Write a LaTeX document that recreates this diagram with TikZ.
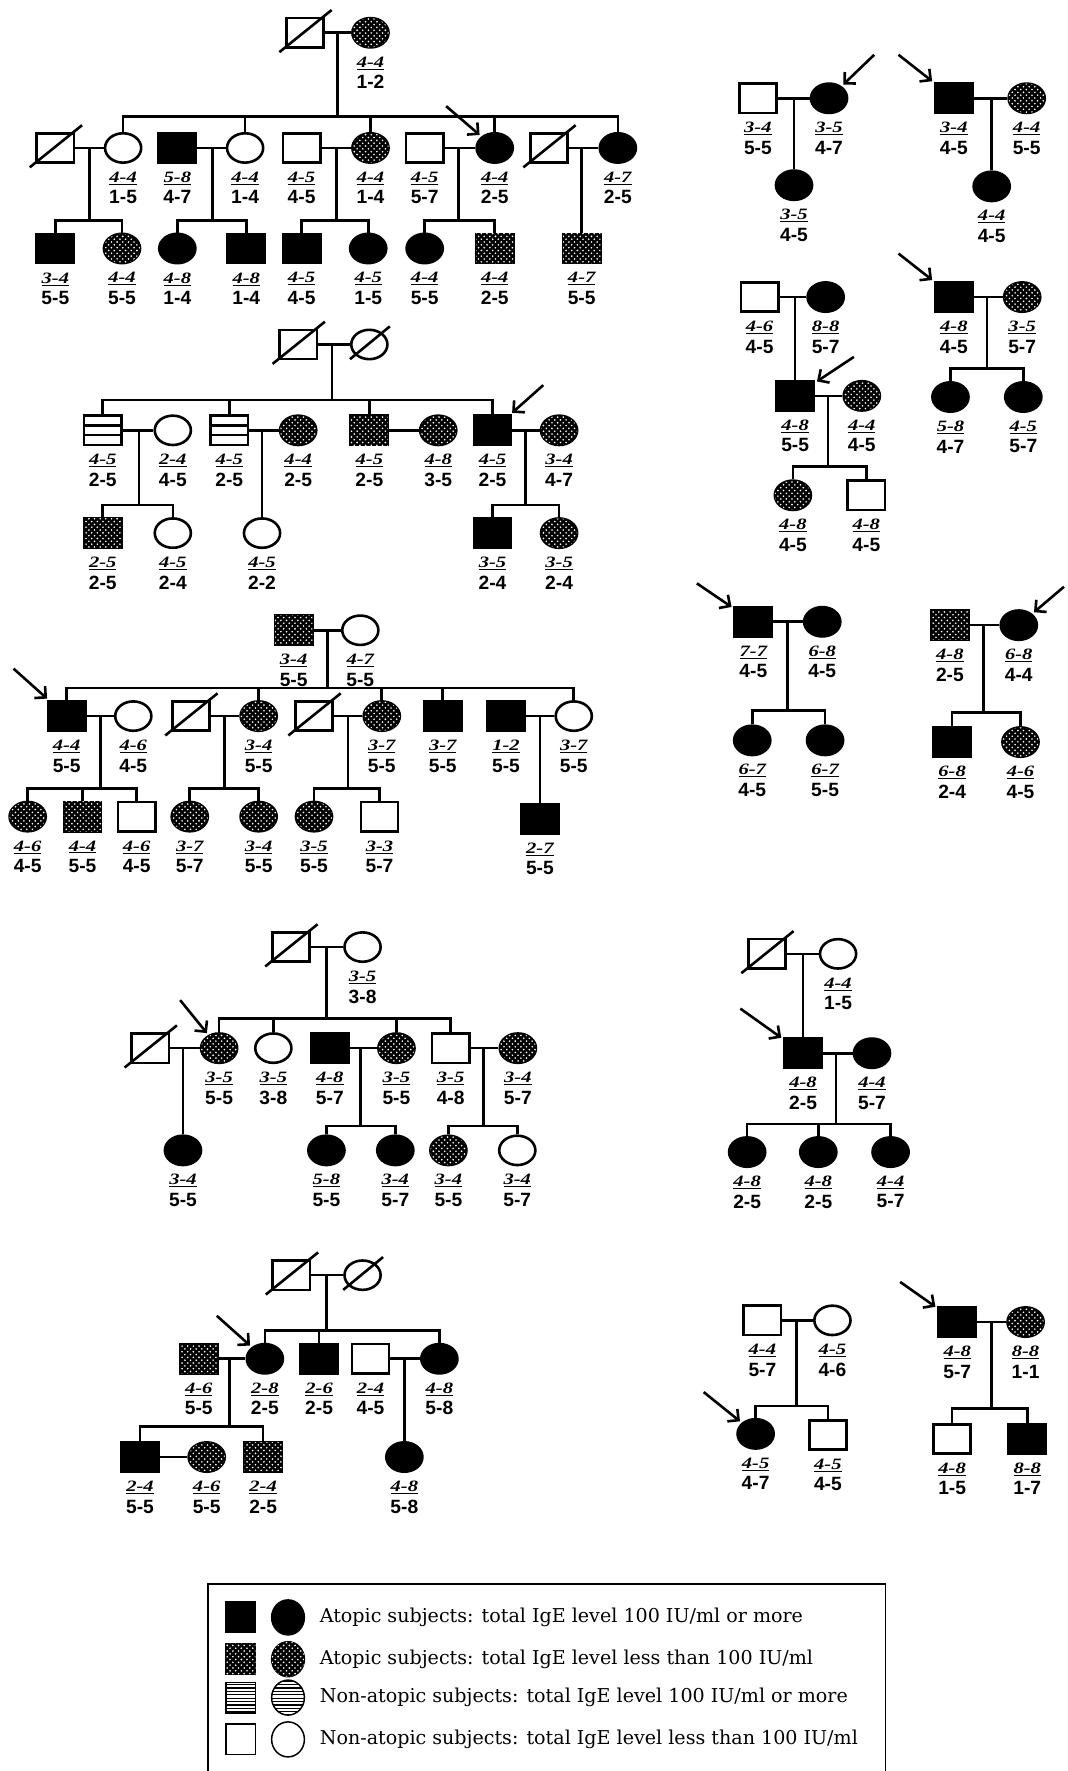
\documentclass[tikz,border=0pt]{standalone}
\usepackage{fontspec}
\usepackage{graphicx}
\setmainfont{DejaVu Serif}
\setsansfont{Liberation Sans}
\newfontfamily\labfont{Liberation Serif}
\usetikzlibrary{shapes.geometric,patterns,arrows.meta}

\pgfdeclarepatternformonly{igedots}{\pgfqpoint{-1pt}{-1pt}}{\pgfqpoint{6pt}{6pt}}{\pgfqpoint{5pt}{5pt}}{%
  \pgfpathcircle{\pgfqpoint{1.2pt}{1.2pt}}{0.8pt}%
  \pgfpathcircle{\pgfqpoint{3.7pt}{3.7pt}}{0.8pt}%
  \pgfusepath{fill}}
\pgfdeclarepatternformonly{igelines}{\pgfqpoint{-1pt}{-1pt}}{\pgfqpoint{4pt}{4pt}}{\pgfqpoint{3pt}{3pt}}{%
  \pgfsetlinewidth{1.1pt}%
  \pgfpathmoveto{\pgfqpoint{-1pt}{1.5pt}}\pgfpathlineto{\pgfqpoint{4pt}{1.5pt}}%
  \pgfusepath{stroke}}

% genotype label: underlined top line, plain second line
\newcommand{\hlab}[2]{\underline{\scalebox{1.3}[1]{\labfont\fontsize{14}{14}\selectfont\bfseries\itshape #1}}\\{\sffamily\bfseries #2}}

\tikzset{
  male/.style={draw, rectangle, minimum width=33pt, minimum height=26pt, inner sep=0pt},
  fem/.style={draw, ellipse, minimum width=32pt, minimum height=26pt, inner sep=0pt},
  aff/.style={fill=black},
  low/.style={fill=black, postaction={pattern=igedots, pattern color=white}},
  nona/.style={path picture={
      \draw ([yshift=4.3pt]path picture bounding box.west) -- ([yshift=4.3pt]path picture bounding box.east);
      \draw ([yshift=-4.3pt]path picture bounding box.west) -- ([yshift=-4.3pt]path picture bounding box.east);}},
  dead/.style={append after command={([shift={(-5pt,-3pt)}]\tikzlastnode.south west)
      edge[-] ([shift={(6pt,6pt)}]\tikzlastnode.north east)}},
  lab/.style={align=center, inner sep=0pt, font=\fontsize{17}{19}\selectfont},
  hla/.style 2 args={label={[lab]below:{\hlab{#1}{#2}}}},
  pb/.style={-{Straight Barb[angle=90:10pt]}, shorten >=2pt},
  lsq/.style={draw, rectangle, minimum width=26pt, minimum height=27pt, inner sep=0pt, line width=1.3pt},
  lci/.style={draw, ellipse, minimum width=29pt, minimum height=31pt, inner sep=0pt, line width=1.3pt},
  key/.style={anchor=west, inner sep=0pt, font=\fontsize{16.9}{20}\selectfont}
}

\begin{document}
\begin{tikzpicture}[x=1pt, y=-1pt, line width=2.3pt, label distance=6pt]
\useasboundingbox (0,0) rectangle (945,1568);
%
% family 1
\node[male, dead] (aI1) at (270,29) {};
\node[fem, low, hla={4-4}{1-2}] (aI2) at (328,29) {};
\node[male, dead] (aII1) at (49,131) {};
\node[fem, hla={4-4}{1-5}] (aII2) at (109,131) {};
\node[male, aff, hla={5-8}{4-7}] (aII3) at (157,131) {};
\node[fem, hla={4-4}{1-4}] (aII4) at (217,131) {};
\node[male, hla={4-5}{4-5}] (aII5) at (267,131) {};
\node[fem, low, hla={4-4}{1-4}] (aII6) at (328,131) {};
\node[male, hla={4-5}{5-7}] (aII7) at (376,131) {};
\node[fem, aff, hla={4-4}{2-5}] (aII8) at (438,131) {};
\node[male, dead] (aII9) at (486,131) {};
\node[fem, aff, hla={4-7}{2-5}] (aII10) at (547,131) {};
\node[male, aff, hla={3-4}{5-5}] (aIII1) at (49,220) {};
\node[fem, low, hla={4-4}{5-5}] (aIII2) at (108,220) {};
\node[fem, aff, hla={4-8}{1-4}] (aIII3) at (157,220) {};
\node[male, aff, hla={4-8}{1-4}] (aIII4) at (218,220) {};
\node[male, aff, hla={4-5}{4-5}] (aIII5) at (267,220) {};
\node[fem, aff, hla={4-5}{1-5}] (aIII6) at (326,220) {};
\node[fem, aff, hla={4-4}{5-5}] (aIII7) at (376,220) {};
\node[male, low, hla={4-4}{2-5}] (aIII8) at (438,220) {};
\node[male, low, hla={4-7}{5-5}] (aIII9) at (515,220) {};
\coordinate (aM1) at (299,29);   \coordinate (aS1) at (299,103);
\coordinate (aM2) at (79,131);   \coordinate (aS2) at (79,195);
\coordinate (aM3) at (188,131);  \coordinate (aS3) at (188,195);
\coordinate (aM4) at (298,131);  \coordinate (aS4) at (298,195);
\coordinate (aM5) at (406,131);  \coordinate (aS5) at (406,195);
\coordinate (aM6) at (515,131);
\coordinate (aP) at (395,94);
\draw (aI1) -- (aI2);
\draw (aM1) -- (aS1);
\draw (aII2.north) |- (aS1) -| (aII10.north);
\foreach \k in {aII4,aII6,aII8} \draw (\k.north) -- (\k.north |- aS1);
\draw (aII1) -- (aII2);  \draw (aII3) -- (aII4);  \draw (aII5) -- (aII6);
\draw (aII7) -- (aII8);  \draw (aII9) -- (aII10);
\draw (aM2) -- (aS2);  \draw (aIII1.north) |- (aS2) -| (aIII2.north);
\draw (aM3) -- (aS3);  \draw (aIII3.north) |- (aS3) -| (aIII4.north);
\draw (aM4) -- (aS4);  \draw (aIII5.north) |- (aS4) -| (aIII6.north);
\draw (aM5) -- (aS5);  \draw (aIII7.north) |- (aS5) -| (aIII8.north);
\draw (aM6) -- (aIII9);
\draw[pb] (aP) -- (aII8);
%
% family 2
\node[male, dead] (bI1) at (264,305) {};
\node[fem, dead] (bI2) at (327,305) {};
\node[male, nona, hla={4-5}{2-5}] (bII1) at (91,381) {};
\node[fem, hla={2-4}{4-5}] (bII2) at (153,381) {};
\node[male, nona, hla={4-5}{2-5}] (bII3) at (203,381) {};
\node[fem, low, hla={4-4}{2-5}] (bII4) at (264,381) {};
\node[male, low, hla={4-5}{2-5}] (bII5) at (327,381) {};
\node[fem, low, hla={4-8}{3-5}] (bII6) at (388,381) {};
\node[male, aff, hla={4-5}{2-5}] (bII7) at (436,381) {};
\node[fem, low, hla={3-4}{4-7}] (bII8) at (495,381) {};
\node[male, low, hla={2-5}{2-5}] (bIII1) at (91,472) {};
\node[fem, hla={4-5}{2-4}] (bIII2) at (153,472) {};
\node[fem, hla={4-5}{2-2}] (bIII3) at (232,472) {};
\node[male, aff, hla={3-5}{2-4}] (bIII4) at (436,472) {};
\node[fem, low, hla={3-5}{2-4}] (bIII5) at (495,472) {};
\coordinate (bM1) at (294,305);  \coordinate (bS1) at (294,354);
\coordinate (bM2) at (123,381);  \coordinate (bS2) at (123,447);
\coordinate (bM3) at (232,381);
\coordinate (bM4) at (465,381);  \coordinate (bS4) at (465,447);
\coordinate (bP) at (481,341);
\draw (bI1) -- (bI2);
\draw (bM1) -- (bS1);
\draw (bII1.north) |- (bS1) -| (bII7.north);
\foreach \k in {bII3,bII5} \draw (\k.north) -- (\k.north |- bS1);
\draw (bII1) -- (bII2);  \draw (bII3) -- (bII4);  \draw (bII5) -- (bII6);  \draw (bII7) -- (bII8);
\draw (bM2) -- (bS2);  \draw (bIII1.north) |- (bS2) -| (bIII2.north);
\draw (bM3) -- (bIII3);
\draw (bM4) -- (bS4);  \draw (bIII4.north) |- (bS4) -| (bIII5.north);
\draw[pb] (bP) -- (bII7);
%
% family 3
\node[male, low, hla={3-4}{5-5}] (cI1) at (260,558) {};
\node[fem, hla={4-7}{5-5}] (cI2) at (319,558) {};
\node[male, aff, hla={4-4}{5-5}] (cII1) at (59,634) {};
\node[fem, hla={4-6}{4-5}] (cII2) at (118,634) {};
\node[male, dead] (cII3) at (169,634) {};
\node[fem, low, hla={3-4}{5-5}] (cII4) at (229,634) {};
\node[male, dead] (cII5) at (278,634) {};
\node[fem, low, hla={3-7}{5-5}] (cII6) at (338,634) {};
\node[male, aff, hla={3-7}{5-5}] (cII7) at (392,634) {};
\node[male, aff, hla={1-2}{5-5}] (cII8) at (448,634) {};
\node[fem, hla={3-7}{5-5}] (cII9) at (508,634) {};
\node[fem, low, hla={4-6}{4-5}] (cIII1) at (24.5,723) {};
\node[male, low, hla={4-4}{5-5}] (cIII2) at (73,723) {};
\node[male, hla={4-6}{4-5}] (cIII3) at (121,723) {};
\node[fem, low, hla={3-7}{5-7}] (cIII4) at (168,723) {};
\node[fem, low, hla={3-4}{5-5}] (cIII5) at (229,723) {};
\node[fem, low, hla={3-5}{5-5}] (cIII6) at (278,723) {};
\node[male, hla={3-3}{5-7}] (cIII7) at (336,723) {};
\node[male, aff, hla={2-7}{5-5}] (cIII8) at (478,725) {};
\coordinate (cM1) at (290,558);  \coordinate (cS1) at (290,609);
\coordinate (cM2) at (89,634);   \coordinate (cS2) at (89,698);
\coordinate (cM3) at (199,634);  \coordinate (cS3) at (199,698);
\coordinate (cM4) at (308,634);  \coordinate (cS4) at (308,698);
\coordinate (cM5) at (478,634);
\coordinate (cP) at (12,592);
\draw (cI1) -- (cI2);
\draw (cM1) -- (cS1);
\draw (cII1.north) |- (cS1) -| (cII9.north);
\foreach \k in {cII4,cII6,cII7} \draw (\k.north) -- (\k.north |- cS1);
\draw (cII1) -- (cII2);  \draw (cII3) -- (cII4);  \draw (cII5) -- (cII6);  \draw (cII8) -- (cII9);
\draw (cM2) -- (cS2);  \draw (cIII1.north) |- (cS2) -| (cIII3.north);
\draw (cIII2.north) -- (cIII2.north |- cS2);
\draw (cM3) -- (cS3);  \draw (cIII4.north) |- (cS3) -| (cIII5.north);
\draw (cM4) -- (cS4);  \draw (cIII6.north) |- (cS4) -| (cIII7.north);
\draw (cM5) -- (cIII8);
\draw[pb] (cP) -- (cII1);
%
% family 4
\node[male, dead] (dI1) at (257.5,838.5) {};
\node[fem, hla={3-5}{3-8}] (dI2) at (321,838.5) {};
\node[male, dead] (dII1) at (133,928) {};
\node[fem, low, hla={3-5}{5-5}] (dII2) at (194,928) {};
\node[fem, hla={3-5}{3-8}] (dII3) at (242,928) {};
\node[male, aff, hla={4-8}{5-7}] (dII4) at (292,928) {};
\node[fem, low, hla={3-5}{5-5}] (dII5) at (351,928) {};
\node[male, hla={3-5}{4-8}] (dII6) at (399,928) {};
\node[fem, low, hla={3-4}{5-7}] (dII7) at (458.5,928) {};
\node[fem, aff, hla={3-4}{5-5}] (dIII1) at (162,1018.5) {};
\node[fem, aff, hla={5-8}{5-5}] (dIII2) at (289,1018.5) {};
\node[fem, aff, hla={3-4}{5-7}] (dIII3) at (350,1018.5) {};
\node[fem, low, hla={3-4}{5-5}] (dIII4) at (397,1018.5) {};
\node[fem, hla={3-4}{5-7}] (dIII5) at (458,1018.5) {};
\coordinate (dM1) at (289,838.5);  \coordinate (dS1) at (289,902);
\coordinate (dM2) at (162,928);
\coordinate (dM3) at (319,928);    \coordinate (dS3) at (319,997);
\coordinate (dM4) at (428,928);    \coordinate (dS4) at (428,997);
\coordinate (dP) at (159.5,885.5);
\draw (dI1) -- (dI2);
\draw (dM1) -- (dS1);
\draw (dII2.north) |- (dS1) -| (dII6.north);
\foreach \k in {dII3,dII5} \draw (\k.north) -- (\k.north |- dS1);
\draw (dII1) -- (dII2);  \draw (dII4) -- (dII5);  \draw (dII6) -- (dII7);
\draw (dM2) -- (dIII1);
\draw (dM3) -- (dS3);  \draw (dIII2.north) |- (dS3) -| (dIII3.north);
\draw (dM4) -- (dS4);  \draw (dIII4.north) |- (dS4) -| (dIII5.north);
\draw[pb] (dP) -- (dII2);
%
% family 5
\node[male, dead] (eI1) at (258,1129) {};
\node[fem, dead] (eI2) at (321,1129) {};
\node[male, low, hla={4-6}{5-5}] (eII1) at (176,1203) {};
\node[fem, aff, hla={2-8}{2-5}] (eII2) at (234.5,1203) {};
\node[male, aff, hla={2-6}{2-5}] (eII3) at (282.5,1203) {};
\node[male, hla={2-4}{4-5}] (eII4) at (328,1203) {};
\node[fem, aff, hla={4-8}{5-8}] (eII5) at (389,1203) {};
\node[male, aff, hla={2-4}{5-5}] (eIII1) at (124,1290) {};
\node[fem, low, hla={4-6}{5-5}] (eIII2) at (183,1290) {};
\node[male, low, hla={2-4}{2-5}] (eIII3) at (233,1290) {};
\node[fem, aff, hla={4-8}{5-8}] (eIII4) at (358,1290) {};
\coordinate (eM1) at (289,1129);  \coordinate (eS1) at (289,1178);
\coordinate (eM2) at (203,1203);  \coordinate (eS2) at (203,1263);
\coordinate (eM3) at (358,1203);
\coordinate (eP) at (192,1165);
\draw (eI1) -- (eI2);
\draw (eM1) -- (eS1);
\draw (eII2.north) |- (eS1) -| (eII5.north);
\draw (eII3.north) -- (eII3.north |- eS1);
\draw (eII1) -- (eII2);  \draw (eII4) -- (eII5);
\draw (eM2) -- (eS2);  \draw (eIII1.north) |- (eS2) -| (eIII3.north);
\draw (eIII1) -- (eIII2);
\draw (eM3) -- (eIII4);
\draw[pb] (eP) -- (eII2);
%
% right column
\node[male, hla={3-4}{5-5}] (fI1) at (671,87) {};
\node[fem, aff, hla={3-5}{4-7}] (fI2) at (734,87) {};
\node[fem, aff, hla={3-5}{4-5}] (fII1) at (703,164) {};
\coordinate (fM1) at (703,87);  \coordinate (fP) at (774,48.5);
\draw (fI1) -- (fI2);  \draw (fM1) -- (fII1);
\draw[pb] (fP) -- (fI2);
%
\node[male, aff, hla={3-4}{4-5}] (gI1) at (844.5,87) {};
\node[fem, low, hla={4-4}{5-5}] (gI2) at (909,87) {};
\node[fem, aff, hla={4-4}{4-5}] (gII1) at (878,165) {};
\coordinate (gM1) at (878,87);  \coordinate (gP) at (795.5,48.5);
\draw (gI1) -- (gI2);  \draw (gM1) -- (gII1);
\draw[pb] (gP) -- (gI1);
%
\node[male, hla={4-6}{4-5}] (hI1) at (672.5,263) {};
\node[fem, aff, hla={8-8}{5-7}] (hI2) at (731,263) {};
\node[male, aff, hla={4-8}{5-5}] (hII1) at (704,350.5) {};
\node[fem, low, hla={4-4}{4-5}] (hII2) at (763,350.5) {};
\node[fem, low, hla={4-8}{4-5}] (hIII1) at (702,438.5) {};
\node[male, hla={4-8}{4-5}] (hIII2) at (767,438.5) {};
\coordinate (hM1) at (704,263);  \coordinate (hM2) at (733,350.5);  \coordinate (hS2) at (733,413);
\coordinate (hP) at (756,316);
\draw (hI1) -- (hI2);  \draw (hM1) -- (hII1);
\draw (hII1) -- (hII2);
\draw (hM2) -- (hS2);  \draw (hIII1.north) |- (hS2) -| (hIII2.north);
\draw[pb] (hP) -- (hII1);
%
\node[male, aff, hla={4-8}{4-5}] (iI1) at (844.5,263) {};
\node[fem, low, hla={3-5}{5-7}] (iI2) at (905,263) {};
\node[fem, aff, hla={5-8}{4-7}] (iII1) at (841.5,351.5) {};
\node[fem, aff, hla={4-5}{5-7}] (iII2) at (906,351.5) {};
\coordinate (iM1) at (874,263);  \coordinate (iS1) at (874,326);
\coordinate (iP) at (795.5,224.5);
\draw (iI1) -- (iI2);
\draw (iM1) -- (iS1);  \draw (iII1.north) |- (iS1) -| (iII2.north);
\draw[pb] (iP) -- (iI1);
%
\node[male, aff, hla={7-7}{4-5}] (jI1) at (667,550.5) {};
\node[fem, aff, hla={6-8}{4-5}] (jI2) at (728,550.5) {};
\node[fem, aff, hla={6-7}{4-5}] (jII1) at (666,655.5) {};
\node[fem, aff, hla={6-7}{5-5}] (jII2) at (730.5,655.5) {};
\coordinate (jM1) at (697,550.5);  \coordinate (jS1) at (697,629);
\coordinate (jP) at (617,516.5);
\draw (jI1) -- (jI2);
\draw (jM1) -- (jS1);  \draw (jII1.north) |- (jS1) -| (jII2.north);
\draw[pb] (jP) -- (jI1);
%
\node[male, low, hla={4-8}{2-5}] (kI1) at (841,553.5) {};
\node[fem, aff, hla={6-8}{4-4}] (kI2) at (902,553.5) {};
\node[male, aff, hla={6-8}{2-4}] (kII1) at (843,657) {};
\node[fem, low, hla={4-6}{4-5}] (kII2) at (903.5,657) {};
\coordinate (kM1) at (871,553.5);  \coordinate (kS1) at (871,631);
\coordinate (kP) at (942,519.5);
\draw (kI1) -- (kI2);
\draw (kM1) -- (kS1);  \draw (kII1.north) |- (kS1) -| (kII2.north);
\draw[pb] (kP) -- (kI2);
%
\node[male, dead] (lI1) at (679,844.5) {};
\node[fem, hla={4-4}{1-5}] (lI2) at (742,844.5) {};
\node[male, aff, hla={4-8}{2-5}] (lII1) at (711,932.5) {};
\node[fem, aff, hla={4-4}{5-7}] (lII2) at (772,932.5) {};
\node[fem, aff, hla={4-8}{2-5}] (lIII1) at (661.5,1020) {};
\node[fem, aff, hla={4-8}{2-5}] (lIII2) at (724.5,1020) {};
\node[fem, aff, hla={4-4}{5-7}] (lIII3) at (788.5,1020) {};
\coordinate (lM1) at (711,844.5);  \coordinate (lM2) at (740,932.5);  \coordinate (lS2) at (740,995);
\coordinate (lP) at (655.5,893);
\draw (lI1) -- (lI2);  \draw (lM1) -- (lII1);
\draw (lII1) -- (lII2);
\draw (lM2) -- (lS2);  \draw (lIII1.north) |- (lS2) -| (lIII3.north);
\draw (lIII2.north) -- (lIII2.north |- lS2);
\draw[pb] (lP) -- (lII1);
%
\node[male, hla={4-4}{5-7}] (nI1) at (675,1169) {};
\node[fem, hla={4-5}{4-6}] (nI2) at (737,1169) {};
\node[fem, aff, hla={4-5}{4-7}] (nII1) at (669,1269.5) {};
\node[male, hla={4-5}{4-5}] (nII2) at (733,1270.5) {};
\coordinate (nM1) at (705,1169);  \coordinate (nS1) at (705,1245);
\coordinate (nP) at (623,1232.5);
\draw (nI1) -- (nI2);
\draw (nM1) -- (nS1);  \draw (nII1.north) |- (nS1) -| (nII2.north);
\draw[pb] (nP) -- (nII1);
%
\node[male, aff, hla={4-8}{5-7}] (oI1) at (847.5,1170.5) {};
\node[fem, low, hla={8-8}{1-1}] (oI2) at (908,1170.5) {};
\node[male, hla={4-8}{1-5}] (oII1) at (843,1274) {};
\node[male, aff, hla={8-8}{1-7}] (oII2) at (909.5,1274) {};
\coordinate (oM1) at (878,1170.5);  \coordinate (oS1) at (878,1247);
\coordinate (oP) at (797,1135);
\draw (oI1) -- (oI2);
\draw (oM1) -- (oS1);  \draw (oII1.north) |- (oS1) -| (oII2.north);
\draw[pb] (oP) -- (oI1);
%
% legend
\draw[line width=1.2pt] (184,1402.5) rectangle (784,1580);
\node[lsq, aff] (k1s) at (213,1432) {};
\node[lci, aff] (k1c) at (255,1432) {};
\node[key] (k1t) at (282,1432) {Atopic subjects: total IgE level 100 IU/ml or more};
\node[lsq, fill=black, postaction={pattern=igedots, pattern color=white}] (k2s) at (213,1469) {};
\node[lci, fill=black, postaction={pattern=igedots, pattern color=white}] (k2c) at (255,1469) {};
\node[key] (k2t) at (282,1469) {Atopic subjects: total IgE level less than 100 IU/ml};
\node[lsq, pattern=igelines] (k3s) at (213,1503) {};
\node[lci, pattern=igelines] (k3c) at (255,1503) {};
\node[key] (k3t) at (282,1503) {Non-atopic subjects: total IgE level 100 IU/ml or more};
\node[lsq] (k4s) at (213,1540) {};
\node[lci] (k4c) at (255,1540) {};
\node[key] (k4t) at (282,1540) {Non-atopic subjects: total IgE level less than 100 IU/ml};
\end{tikzpicture}
\end{document}
